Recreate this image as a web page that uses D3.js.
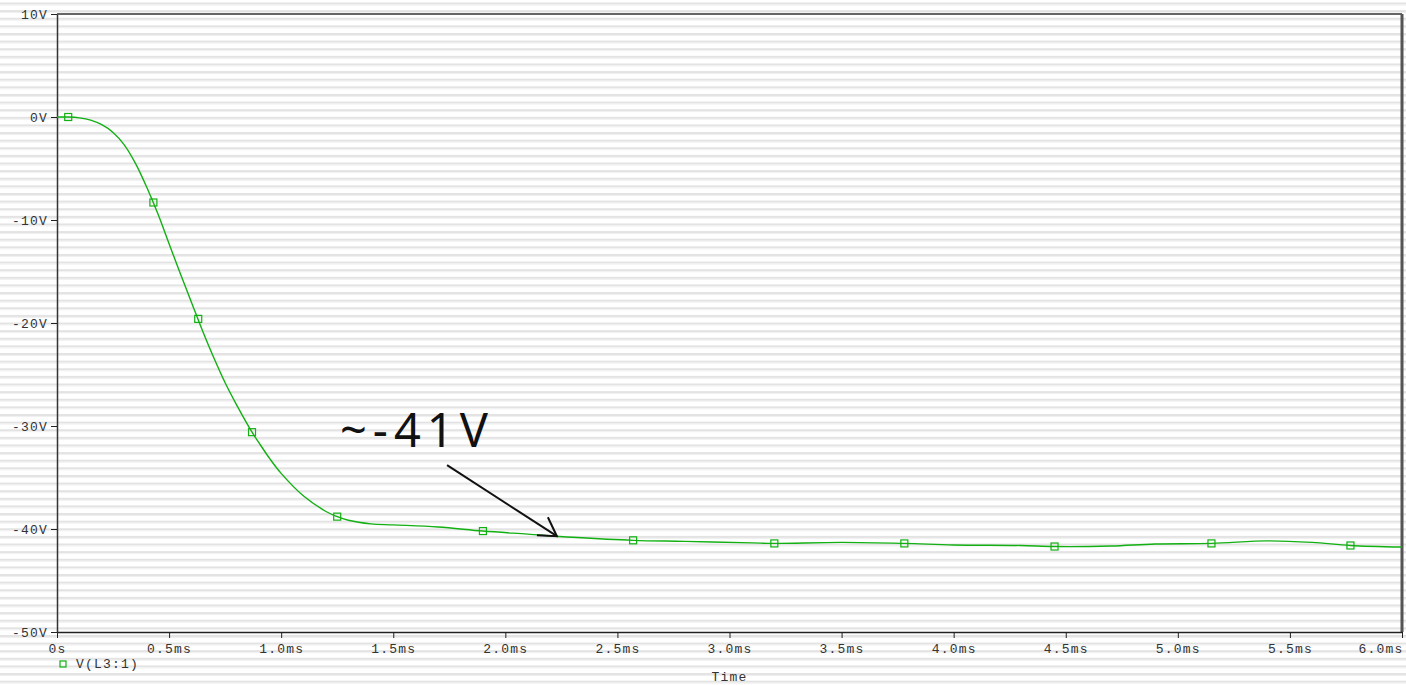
<!DOCTYPE html>
<html>
<head>
<meta charset="utf-8">
<script src="https://cdn.jsdelivr.net/npm/d3@7"></script>
<style>
    body { margin: 0; background: #fff; }
    svg { display: block; }
    .tick text, .lbl { font-family: "Liberation Mono", "DejaVu Sans Mono", monospace; font-size: 13px; letter-spacing: 1.2px; fill: #333; }
</style>
</head>
<body>
<div id="chart"></div>
<script>
// V(L3:1) trace, time in ms, value in volts
const timeMs = [0, 0.05, 0.1, 0.15, 0.2, 0.25, 0.3, 0.35, 0.4, 0.45, 0.5, 0.55, 0.6, 0.65, 0.7, 0.75, 0.8, 0.87, 0.9, 0.95,
    1.0, 1.1, 1.2, 1.25, 1.3, 1.4, 1.5, 1.7, 1.9, 2.1, 2.3, 2.57, 2.8, 3.1, 3.2, 3.5, 3.78, 4.0, 4.3, 4.45, 4.7, 4.9, 5.15, 5.4, 5.6, 5.77, 6.0];
const voltage = [0, 0, -0.08, -0.3, -0.75, -1.5, -2.7, -4.5, -6.8, -9.4, -12.3, -15.2, -18.0, -20.8, -23.4, -25.8, -27.9, -30.6, -31.6, -33.2,
    -34.6, -36.8, -38.3, -38.8, -39.15, -39.5, -39.6, -39.8, -40.2, -40.5, -40.8, -41.1, -41.2, -41.35, -41.4, -41.3, -41.4, -41.55, -41.6, -41.7, -41.65, -41.45, -41.4, -41.15, -41.3, -41.6, -41.75];

// marker squares along the trace
const markerTime = [0.05, 0.43, 0.63, 0.87, 1.25, 1.9, 2.57, 3.2, 3.78, 4.45, 5.15, 5.77];
const markerVolt = [0, -8.3, -19.6, -30.6, -38.8, -40.2, -41.1, -41.4, -41.4, -41.7, -41.4, -41.6];

const xTicks = [0, 0.5, 1.0, 1.5, 2.0, 2.5, 3.0, 3.5, 4.0, 4.5, 5.0, 5.5, 6.0];
const yTicks = [10, 0, -10, -20, -30, -40, -50];

// annotation: label anchor and arrow ends, in data units
const noteText = "~-41V";
const notePos = [1.262, -32.0];
const arrowFrom = [1.74, -33.8];
const arrowTo = [2.23, -40.7];

const width = 1406, height = 685;
const margin = {top: 14, right: 4, bottom: 53, left: 57};
const green = "#12b012";

const svg = d3.select("#chart").append("svg")
    .attr("width", width)
    .attr("height", height);

// grey scan stripes across the whole picture
const stripes = d3.range(2.5, height, 7.62);
svg.append("g").selectAll("rect").data(stripes).join("rect")
    .attr("x", 0).attr("width", width)
    .attr("y", d => d).attr("height", 2)
    .attr("fill", "#e3e3e3");
svg.append("g").selectAll("rect").data(stripes).join("rect")
    .attr("x", 0).attr("width", width)
    .attr("y", d => d + 2).attr("height", 1)
    .attr("fill", "#f0f0f0");

const x = d3.scaleLinear().domain([0, 6]).range([margin.left, width - margin.right]);
const y = d3.scaleLinear().domain([-50, 10]).range([height - margin.bottom, margin.top]);

// frame: top and right edges
svg.append("line")
    .attr("x1", x(0)).attr("x2", x(6))
    .attr("y1", y(10)).attr("y2", y(10))
    .attr("stroke", "#333").attr("stroke-width", 1.5);
svg.append("line")
    .attr("x1", x(6)).attr("x2", x(6))
    .attr("y1", y(10)).attr("y2", y(-50))
    .attr("stroke", "#555").attr("stroke-width", 3);

const xAxis = svg.append("g")
    .attr("transform", `translate(0,${y(-50)})`)
    .call(d3.axisBottom(x).tickValues(xTicks).tickSize(6).tickSizeOuter(0)
        .tickFormat(d => d === 0 ? "0s" : d.toFixed(1) + "ms"));
xAxis.select(".domain").attr("stroke", "#222").attr("stroke-width", 1.5);
xAxis.selectAll(".tick line").attr("stroke", "#222");
xAxis.selectAll(".tick text").attr("dy", "0.95em");
// last label sits flush with the right edge
xAxis.selectAll(".tick text").filter(d => d === 6).attr("text-anchor", "end").attr("x", 1);

const yAxis = svg.append("g")
    .attr("transform", `translate(${x(0)},0)`)
    .call(d3.axisLeft(y).tickValues(yTicks).tickSize(6).tickSizeOuter(0)
        .tickFormat(d => d + "V"));
yAxis.select(".domain").attr("stroke", "#333").attr("stroke-width", 1.5);
yAxis.selectAll(".tick line").attr("stroke", "#222");
yAxis.selectAll(".tick text").attr("x", -9);

// trace
const trace = timeMs.map((t, i) => [t, voltage[i]]);
svg.append("path")
    .datum(trace)
    .attr("fill", "none")
    .attr("stroke", green)
    .attr("stroke-width", 1.4)
    .attr("d", d3.line().x(d => x(d[0])).y(d => y(d[1])).curve(d3.curveCatmullRom.alpha(0.5)));

svg.append("g").selectAll("rect")
    .data(markerTime.map((t, i) => [t, markerVolt[i]]))
    .join("rect")
    .attr("x", d => x(d[0]) - 3.5)
    .attr("y", d => y(d[1]) - 3.5)
    .attr("width", 7).attr("height", 7)
    .attr("fill", "none")
    .attr("stroke", green)
    .attr("stroke-width", 1.2);

// legend + axis title
svg.append("rect")
    .attr("x", 60).attr("y", 661).attr("width", 6).attr("height", 6)
    .attr("fill", "none").attr("stroke", green).attr("stroke-width", 1.2);
svg.append("text").attr("class", "lbl")
    .attr("x", 76).attr("y", 668)
    .text("V(L3:1)");
svg.append("text").attr("class", "lbl")
    .attr("x", (x(0) + x(6)) / 2).attr("y", 681)
    .attr("text-anchor", "middle")
    .text("Time");

// annotation
svg.append("text")
    .attr("x", x(notePos[0])).attr("y", y(notePos[1]))
    .attr("font-family", "Noto Sans, sans-serif")
    .attr("font-size", 47)
    .attr("letter-spacing", 6)
    .attr("fill", "#111")
    .text(noteText);

const ax0 = x(arrowFrom[0]), ay0 = y(arrowFrom[1]);
const ax1 = x(arrowTo[0]), ay1 = y(arrowTo[1]);
svg.append("line")
    .attr("x1", ax0).attr("y1", ay0).attr("x2", ax1).attr("y2", ay1)
    .attr("stroke", "#111").attr("stroke-width", 2);
svg.append("path")
    .attr("d", `M${ax1 - 9},${ay1 - 19}L${ax1},${ay1}L${ax1 - 20},${ay1 - 1}`)
    .attr("fill", "none")
    .attr("stroke", "#111").attr("stroke-width", 2);
</script>
</body>
</html>
